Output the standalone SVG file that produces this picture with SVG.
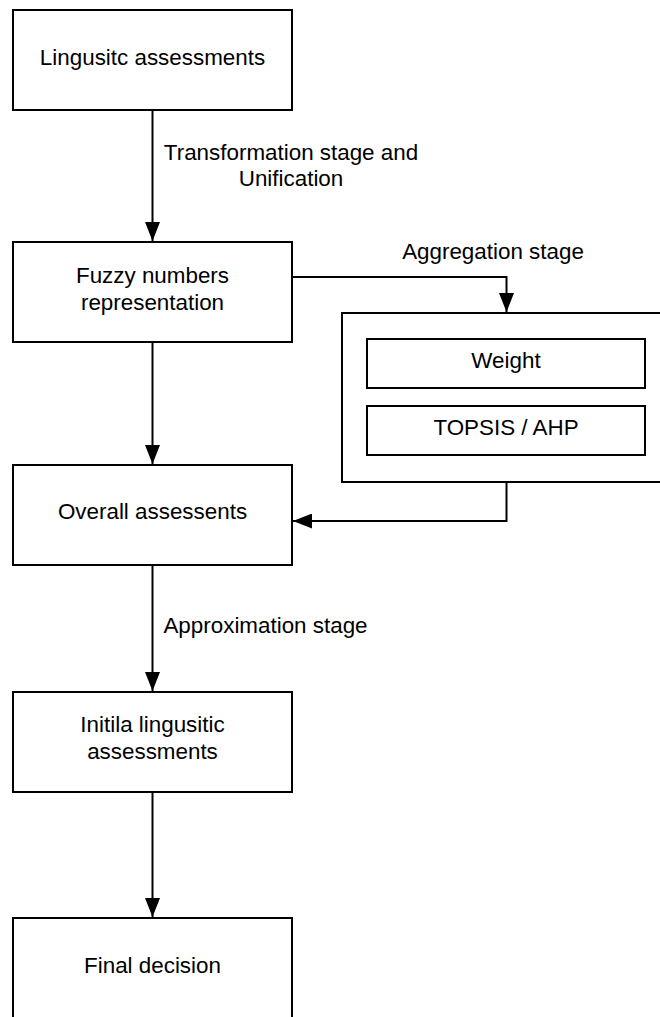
<svg xmlns="http://www.w3.org/2000/svg" width="660" height="1017" viewBox="0 0 660 1017">
  <defs>
    <style>
      .box { fill: #ffffff; stroke: #000000; stroke-width: 2; }
      .lbl { font-family: "Liberation Sans", Arial, sans-serif; font-size: 22.4px; fill: #000000; text-anchor: middle; }
      .edge { fill: none; stroke: #000000; stroke-width: 2; marker-end: url(#arrow); }
      .edge-plain { fill: none; stroke: #000000; stroke-width: 2; }
    </style>
    <marker id="arrow" markerUnits="userSpaceOnUse" markerWidth="20" markerHeight="15" refX="19" refY="7.5" orient="auto">
      <path d="M0,0 L19,7.5 L0,15 z" fill="#000000"/>
    </marker>
  </defs>

  <rect width="660" height="1017" fill="#ffffff"/>

  <!-- connectors -->
  <g id="connectors">
    <path class="edge" d="M152.5,111 L152.5,241"/>
    <path class="edge" d="M152.5,343 L152.5,464"/>
    <path class="edge" d="M152.5,566 L152.5,691"/>
    <path class="edge" d="M152.5,793 L152.5,917"/>
    <path class="edge" d="M293,277 L506.5,277 L506.5,312"/>
    <path class="edge" d="M506.5,483 L506.5,521 L293,521"/>
    <text class="lbl" x="291" y="160">Transformation stage and</text>
    <text class="lbl" x="291" y="186">Unification</text>
    <text class="lbl" x="493" y="259">Aggregation stage</text>
    <text class="lbl" x="265.5" y="633">Approximation stage</text>
  </g>

  <g id="linguistic-assessments">
    <rect class="box" x="13" y="10" width="279" height="100"/>
    <text class="lbl" x="152.5" y="65">Lingusitc assessments</text>
  </g>

  <g id="fuzzy-numbers">
    <rect class="box" x="13" y="242" width="279" height="100"/>
    <text class="lbl" x="152.5" y="283">Fuzzy numbers</text>
    <text class="lbl" x="152.5" y="310">representation</text>
  </g>

  <g id="aggregation">
    <rect class="box" x="342" y="313" width="340" height="169"/>
    <g id="weight">
      <rect class="box" x="367" y="339" width="278" height="49"/>
      <text class="lbl" x="506" y="368">Weight</text>
    </g>
    <g id="topsis-ahp">
      <rect class="box" x="367" y="406" width="278" height="49"/>
      <text class="lbl" x="506" y="435">TOPSIS / AHP</text>
    </g>
  </g>

  <g id="overall-assessments">
    <rect class="box" x="13" y="465" width="279" height="100"/>
    <text class="lbl" x="152.5" y="519">Overall assessents</text>
  </g>

  <g id="initial-linguistic">
    <rect class="box" x="13" y="692" width="279" height="100"/>
    <text class="lbl" x="152.5" y="732">Initila lingusitic</text>
    <text class="lbl" x="152.5" y="759">assessments</text>
  </g>

  <g id="final-decision">
    <rect class="box" x="13" y="918" width="279" height="130"/>
    <text class="lbl" x="152.5" y="973">Final decision</text>
  </g>
</svg>
